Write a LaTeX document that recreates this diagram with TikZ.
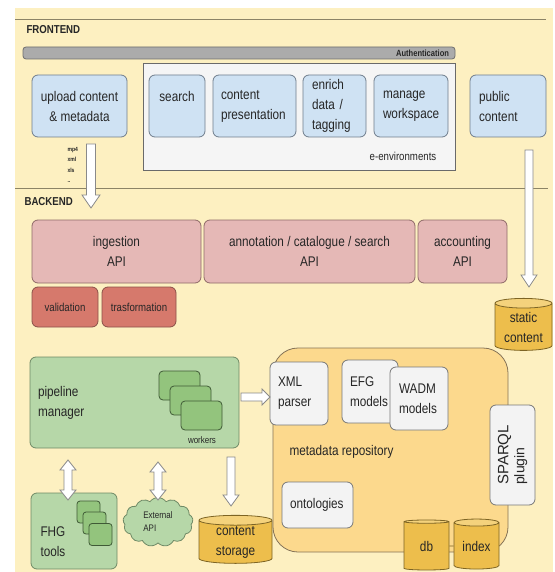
\documentclass[tikz,border=0pt]{standalone}
\usepackage{fontspec}
\setmainfont{Liberation Sans}[FakeStretch=0.84]
\newfontfamily\plainsans{Liberation Sans}
\usetikzlibrary{shapes.geometric,shapes.symbols,calc}
\definecolor{bgyellow}{HTML}{FDF0C1}
\definecolor{sepcol}{HTML}{8C8466}
\definecolor{txtcol}{HTML}{262626}
\definecolor{barfill}{HTML}{ABABAB}
\definecolor{barline}{HTML}{6E6E6E}
\definecolor{envfill}{HTML}{F5F5F5}
\definecolor{envline}{HTML}{6A6A6A}
\definecolor{bluefill}{HTML}{CFE2F3}
\definecolor{blueline}{HTML}{6F7D8C}
\definecolor{pinkfill}{HTML}{E5B8B6}
\definecolor{pinkline}{HTML}{8E6A68}
\definecolor{redfill}{HTML}{D6796C}
\definecolor{redline}{HTML}{8A5048}
\definecolor{greenfill}{HTML}{B6D7A8}
\definecolor{greenline}{HTML}{6F8A66}
\definecolor{workfill}{HTML}{93C47D}
\definecolor{workline}{HTML}{3F5A36}
\definecolor{cylbody}{HTML}{EDBE4C}
\definecolor{cyltop}{HTML}{F4D27C}
\definecolor{cylline}{HTML}{7D6424}
\definecolor{repofill}{HTML}{FCD98D}
\definecolor{repoline}{HTML}{857357}
\definecolor{whfill}{HTML}{F3F3F3}
\definecolor{whline}{HTML}{777777}
\definecolor{arrline}{HTML}{8A8A8A}
\newcommand{\fatdown}[5]{\draw[fatarr] ($(#1)+(-#3,0)$) -- ($(#2)+(-#3,-#5)$) -- ($(#2)+(-#4,-#5)$) -- (#2) -- ($(#2)+(#4,-#5)$) -- ($(#2)+(#3,-#5)$) -- ($(#1)+(#3,0)$) -- cycle;}
\newcommand{\fatboth}[5]{\draw[fatarr] (#1) -- ($(#1)+(#4,#5)$) -- ($(#1)+(#3,#5)$) -- ($(#2)+(#3,-#5)$) -- ($(#2)+(#4,-#5)$) -- (#2) -- ($(#2)+(-#4,-#5)$) -- ($(#2)+(-#3,-#5)$) -- ($(#1)+(-#3,#5)$) -- ($(#1)+(-#4,#5)$) -- cycle;}
\newcommand{\fatright}[5]{\draw[fatarr] ($(#1)+(0,-#3)$) -- ($(#2)+(-#5,-#3)$) -- ($(#2)+(-#5,-#4)$) -- (#2) -- ($(#2)+(-#5,#4)$) -- ($(#2)+(-#5,#3)$) -- ($(#1)+(0,#3)$) -- cycle;}
\begin{document}
\begin{tikzpicture}[x=1pt,y=-1pt,
  txt/.style={font=\fontsize{14}{20}\selectfont, text=txtcol},
  smalltxt/.style={font=\fontsize{11.5}{14}\selectfont, text=txtcol},
  hdr/.style={font=\bfseries\fontsize{11.5}{14}\selectfont, text=black!85},
  sepline/.style={draw=sepcol, line width=1pt},
  anybox/.style={rounded corners=6pt, line width=0.8pt, inner sep=0pt, txt},
  bbox/.style={anybox, draw=blueline, fill=bluefill},
  pbox/.style={anybox, draw=pinkline, fill=pinkfill},
  rbox/.style={anybox, draw=redline, fill=redfill, smalltxt},
  gbox/.style={anybox, draw=greenline, fill=greenfill},
  wkbox/.style={anybox, rounded corners=4pt, draw=workline, fill=workfill, minimum width=#1},
  wbox/.style={anybox, draw=whline, fill=whfill},
  lefttext/.style={align=left, text width=#1, inner xsep=8pt},
  cyl/.style={cylinder, shape border rotate=90, aspect=0.25, draw=cylline, line width=0.8pt,
    cylinder uses custom fill, cylinder body fill=cylbody, cylinder end fill=cyltop,
    inner sep=0pt, align=center, txt},
  fatarr/.style={draw=arrline, fill=white, line width=0.8pt, line join=miter}
]
\useasboundingbox (0,0) rectangle (554,572);
\fill[white] (0,0) rectangle (554,572);
\fill[bgyellow] (15,8) rectangle (553,572);
\draw[sepline] (15,20) -- (546,20);
\draw[sepline] (15,188) -- (548,188);

% FRONTEND
\node[hdr, anchor=west] (fe) at (23,30) {FRONTEND};
\node[anybox, draw=barline, fill=barfill, rounded corners=3pt, minimum width=432pt, minimum height=12pt,
  text width=420pt, align=right, inner xsep=6pt, font=\bfseries\fontsize{9}{10}\selectfont, text=black!85] (auth) at (239,53) {Authentication};
\node[draw=envline, fill=envfill, line width=0.8pt, minimum width=312pt, minimum height=107pt, inner sep=0pt] (env) at (299,116.5) {};
\node[smalltxt] (envlbl) at (403,156) {e-environments};

\node[bbox, minimum width=95pt, minimum height=62pt, align=center] (upload) at (79.5,106) {upload content\\\& metadata};
\node[bbox, minimum width=56pt, minimum height=62pt] (search) at (177,106) {};
\node[txt] (searchlbl) at (177,96) {search};
\node[bbox, minimum height=62pt, lefttext=67pt] (pres) at (254.5,106) {content\\presentation};
\node[bbox, minimum height=62pt, lefttext=45pt, inner xsep=9pt] (enrich) at (334.5,106) {enrich\\data /\\tagging};
\node[bbox, minimum height=62pt, lefttext=56pt, inner xsep=9pt] (manage) at (411,106) {manage\\workspace};
\node[bbox, minimum height=62pt, lefttext=58pt, inner xsep=9pt] (public) at (508,106) {public\\content};

\node[font=\bfseries\fontsize{6}{10.5}\selectfont, text=txtcol, align=left, anchor=west] (formats) at (64,165) {mp4\\xml\\xls\\..};

% BACKEND
\node[hdr, anchor=west] (be) at (21,202) {BACKEND};
\node[pbox, minimum width=169pt, minimum height=63pt, align=center] (ingest) at (116.5,251.5) {ingestion\\API};
\node[pbox, minimum width=211pt, minimum height=63pt, align=center] (annot) at (309.5,251.5) {annotation / catalogue / search\\API};
\node[pbox, minimum width=89pt, minimum height=63pt, align=center] (acct) at (462.5,251.5) {accounting\\API};
\node[rbox, minimum width=66pt, minimum height=40pt] (valid) at (65,307) {validation};
\node[rbox, minimum width=74pt, minimum height=40pt] (trans) at (139,307) {trasformation};
\node[cyl, minimum width=57pt, minimum height=52pt] (static) at (523.5,327) {static\\content};

% pipeline
\node[gbox, minimum height=91pt, lefttext=193pt] (pipe) at (134.5,402.5) {pipeline\\manager};
\node[wkbox=41pt, minimum height=29pt] (w1) at (179.5,385.5) {};
\node[wkbox=41pt, minimum height=29pt] (w2) at (190.5,400.5) {};
\node[wkbox=41pt, minimum height=29pt] (w3) at (201.5,415.5) {};
\node[font=\fontsize{9.5}{11}\selectfont, text=txtcol] (wlbl) at (202,440) {workers};

\node[gbox, minimum width=86pt, minimum height=76pt] (fhg) at (74,531) {};
\node[txt, align=left, anchor=west] (fhglbl) at (37,542) {FHG\\tools};
\node[wkbox=23pt, minimum height=22pt, rounded corners=3pt] (f1) at (88.5,512) {};
\node[wkbox=23pt, minimum height=22pt, rounded corners=3pt] (f2) at (94.5,523) {};
\node[wkbox=23pt, minimum height=22pt, rounded corners=3pt] (f3) at (100.5,534.5) {};

\node[cloud, cloud puffs=13, cloud puff arc=110, aspect=1.45, draw=greenline, fill=greenfill, line width=0.8pt,
  minimum width=70pt, minimum height=49pt, inner sep=0pt, align=left,
  font=\fontsize{9.5}{13}\selectfont, text=txtcol] (extapi) at (158,522) {External\\API};

\node[cyl, minimum width=73pt, minimum height=48pt] (cstor) at (235.5,542) {content\\storage};

% metadata repository
\node[draw=repoline, fill=repofill, line width=0.8pt, rounded corners=25pt, minimum width=235pt, minimum height=204pt, inner sep=0pt] (repo) at (390.5,450) {};
\node[txt, anchor=west] (repolbl) at (286,452) {metadata repository};
\node[wbox, minimum height=63pt, lefttext=42pt] (xml) at (299,393.5) {XML\\parser};
\node[wbox, minimum height=63pt, lefttext=40pt] (efg) at (370,391.5) {EFG\\models};
\node[wbox, minimum height=63pt, lefttext=40pt, inner xsep=9pt] (wadm) at (419,398.5) {WADM\\models};
\node[wbox, minimum height=46pt, lefttext=55pt] (onto) at (317.5,505) {ontologies};
\node[wbox, rotate=90, minimum width=100pt, minimum height=45pt, align=left,
  font=\plainsans\fontsize{15}{16}\selectfont] (sparql) at (512.5,455) {SPARQL\\{\fontsize{14}{15}\selectfont plugin}};
\node[cyl, minimum width=45pt, minimum height=50pt] (db) at (426.5,546) {db};
\node[cyl, minimum width=45pt, minimum height=50pt] (index) at (476.5,546) {index};
\draw[draw=cylline, line width=0.8pt] (db.east) -- (index.west);

% hollow arrows
\coordinate (a1s) at (91,144);  \coordinate (a1t) at (91,208);
\coordinate (a2s) at (529,150); \coordinate (a2t) at (529,287);
\coordinate (a3s) at (241,397); \coordinate (a3t) at (270,397);
\coordinate (a4s) at (231,457); \coordinate (a4t) at (231,506);
\coordinate (a5a) at (68,460);  \coordinate (a5b) at (68,500);
\coordinate (a6a) at (158,462); \coordinate (a6b) at (158,500);
\fatdown{a1s}{a1t}{4.5}{9}{13}
\fatdown{a2s}{a2t}{4}{8}{12}
\fatright{a3s}{a3t}{4}{8}{8}
\fatdown{a4s}{a4t}{4}{8}{11}
\fatboth{a5a}{a5b}{4}{8}{10}
\fatboth{a6a}{a6b}{4}{8}{10}
\end{tikzpicture}
\end{document}
